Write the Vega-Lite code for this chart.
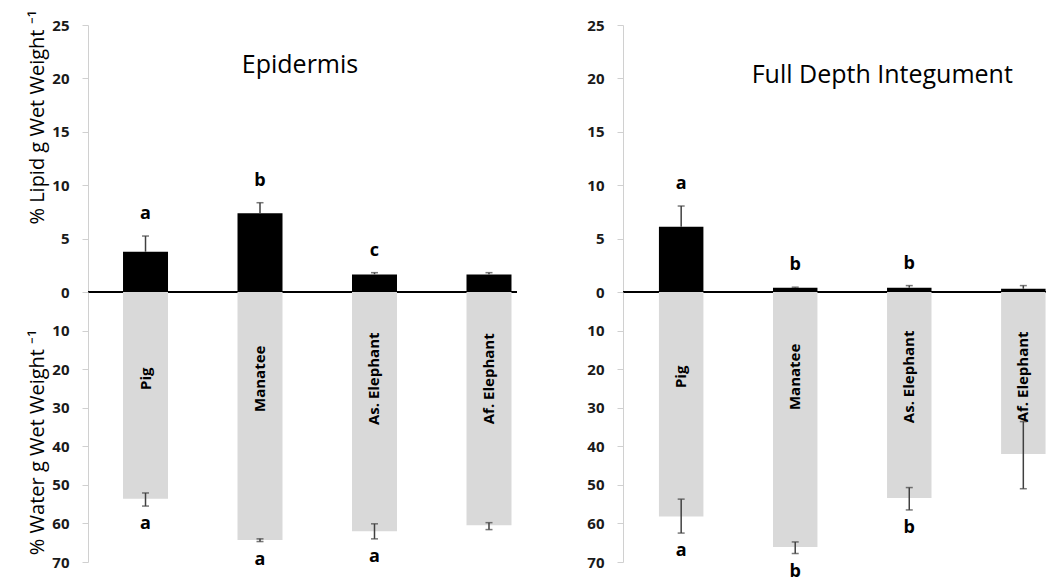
{
  "$schema": "https://vega.github.io/schema/vega-lite/v6.json",
  "background": "white",
  "padding": {"left": 27, "top": 9, "right": 0, "bottom": 0},
  "spacing": 68,
  "config": {
    "view": {"stroke": null},
    "font": "Open Sans",
    "axis": {
      "grid": false,
      "domainColor": "#d0d0d0",
      "tickColor": "#d0d0d0",
      "tickSize": 6,
      "labelFont": "Open Sans",
      "labelFontWeight": "bold",
      "labelFontSize": 15,
      "labelColor": "#1a1a1a",
      "labelPadding": 13,
      "titleFont": "Open Sans",
      "titleFontSize": 20,
      "titleFontWeight": "normal",
      "titleColor": "#000000"
    }
  },
  "datasets": {
    "epi": [
      {"animal": "Pig", "lipid": 3.77, "lipid_hi": 5.24, "lipid_sig": "a", "water": 53.6, "water_lo": 52.1, "water_hi": 55.5, "water_sig": "a"},
      {"animal": "Manatee", "lipid": 7.37, "lipid_hi": 8.36, "lipid_sig": "b", "water": 64.3, "water_lo": 64.0, "water_hi": 64.7, "water_sig": "a"},
      {"animal": "As. Elephant", "lipid": 1.65, "lipid_hi": 1.81, "lipid_sig": "c", "water": 62.0, "water_lo": 60.1, "water_hi": 64.0, "water_sig": "a"},
      {"animal": "Af. Elephant", "lipid": 1.65, "lipid_hi": 1.81, "lipid_sig": "", "water": 60.5, "water_lo": 59.8, "water_hi": 61.6, "water_sig": ""}
    ],
    "fdi": [
      {"animal": "Pig", "lipid": 6.11, "lipid_hi": 8.05, "lipid_sig": "a", "water": 58.2, "water_lo": 53.7, "water_hi": 62.5, "water_sig": "a"},
      {"animal": "Manatee", "lipid": 0.4, "lipid_hi": 0.45, "lipid_sig": "b", "water": 66.1, "water_lo": 64.8, "water_hi": 67.8, "water_sig": "b"},
      {"animal": "As. Elephant", "lipid": 0.4, "lipid_hi": 0.6, "lipid_sig": "b", "water": 53.4, "water_lo": 50.7, "water_hi": 56.5, "water_sig": "b"},
      {"animal": "Af. Elephant", "lipid": 0.3, "lipid_hi": 0.6, "lipid_sig": "", "water": 42.0, "water_lo": 33.6, "water_hi": 51.0, "water_sig": ""}
    ],
    "titles": [
      {"panel": "epi", "name": "Epidermis"},
      {"panel": "fdi", "name": "Full Depth Integument"}
    ]
  },
  "hconcat": [
    {
      "vconcat": [
        {
          "width": 429,
          "height": 267,
          "data": {"name": "epi"},
          "encoding": {
            "x": {"field": "animal", "type": "nominal", "sort": null, "axis": null,
                  "scale": {"paddingInner": 0.607, "paddingOuter": 0.177, "align": 0.864, "round": false}}
          },
          "layer": [
            {"mark": {"type": "bar", "color": "#000000"},
             "encoding": {"y": {"field": "lipid", "type": "quantitative",
                                "scale": {"domain": [0, 25], "nice": false},
                                "axis": {"values": [0, 5, 10, 15, 20, 25], "title": "% Lipid g Wet Weight ⁻¹", "titleY": 92}}}},
            {"mark": {"type": "rule", "color": "#404040", "strokeWidth": 1.5},
             "encoding": {"y": {"field": "lipid", "type": "quantitative"}, "y2": {"field": "lipid_hi"}}},
            {"mark": {"type": "tick", "color": "#404040", "size": 7, "thickness": 1.5},
             "encoding": {"y": {"field": "lipid_hi", "type": "quantitative"}}},
            {"mark": {"type": "text", "font": "Open Sans", "fontWeight": "bold", "fontSize": 18, "baseline": "middle", "dy": -22, "color": "#000000"},
             "encoding": {"y": {"field": "lipid_hi", "type": "quantitative"}, "text": {"field": "lipid_sig"}}},
            {"mark": {"type": "rule", "color": "#000000", "strokeWidth": 2},
             "encoding": {"y": {"datum": 0, "type": "quantitative"}, "x": null}},
            {"data": {"name": "titles"},
             "transform": [{"filter": "datum.panel == 'epi'"}],
             "mark": {"type": "text", "font": "Open Sans", "fontSize": 25, "baseline": "middle", "align": "center", "dx": 40, "color": "#000000"},
             "encoding": {"x": {"datum": "Manatee", "type": "nominal"}, "y": {"datum": 21.25, "type": "quantitative"}, "text": {"field": "name"}}}
          ]
        },
        {
          "width": 429,
          "height": 270,
          "data": {"name": "epi"},
          "encoding": {
            "x": {"field": "animal", "type": "nominal", "sort": null, "axis": null,
                  "scale": {"paddingInner": 0.607, "paddingOuter": 0.177, "align": 0.864, "round": false}}
          },
          "layer": [
            {"mark": {"type": "bar", "color": "#d9d9d9"},
             "encoding": {"y": {"field": "water", "type": "quantitative",
                                "scale": {"domain": [0, 70], "nice": false, "reverse": true},
                                "axis": {"values": [10, 20, 30, 40, 50, 60, 70], "title": "% Water g Wet Weight ⁻¹", "titleY": 150}}}},
            {"mark": {"type": "rule", "color": "#404040", "strokeWidth": 1.5},
             "encoding": {"y": {"field": "water_lo", "type": "quantitative"}, "y2": {"field": "water_hi"}}},
            {"mark": {"type": "tick", "color": "#404040", "size": 7, "thickness": 1.5},
             "encoding": {"y": {"field": "water_lo", "type": "quantitative"}}},
            {"mark": {"type": "tick", "color": "#404040", "size": 7, "thickness": 1.5},
             "encoding": {"y": {"field": "water_hi", "type": "quantitative"}}},
            {"mark": {"type": "text", "font": "Open Sans", "fontWeight": "bold", "fontSize": 18, "baseline": "middle", "dy": 18, "color": "#000000"},
             "encoding": {"y": {"field": "water_hi", "type": "quantitative"}, "text": {"field": "water_sig"}}},
            {"mark": {"type": "text", "font": "Open Sans", "fontWeight": "bold", "fontSize": 15, "baseline": "middle", "align": "center", "angle": 270, "color": "#000000"},
             "encoding": {"y": {"datum": 22.5, "type": "quantitative"}, "text": {"field": "animal"}}}
          ]
        }
      ],
      "spacing": 0,
      "bounds": "flush"
    },
    {
      "vconcat": [
        {
          "width": 427,
          "height": 267,
          "data": {"name": "fdi"},
          "encoding": {
            "x": {"field": "animal", "type": "nominal", "sort": null, "axis": null,
                  "scale": {"paddingInner": 0.61, "paddingOuter": 0.177, "align": 0.89, "round": false}}
          },
          "layer": [
            {"mark": {"type": "bar", "color": "#000000"},
             "encoding": {"y": {"field": "lipid", "type": "quantitative",
                                "scale": {"domain": [0, 25], "nice": false},
                                "axis": {"values": [0, 5, 10, 15, 20, 25], "title": null}}}},
            {"mark": {"type": "rule", "color": "#404040", "strokeWidth": 1.5},
             "encoding": {"y": {"field": "lipid", "type": "quantitative"}, "y2": {"field": "lipid_hi"}}},
            {"mark": {"type": "tick", "color": "#404040", "size": 7, "thickness": 1.5},
             "encoding": {"y": {"field": "lipid_hi", "type": "quantitative"}}},
            {"mark": {"type": "text", "font": "Open Sans", "fontWeight": "bold", "fontSize": 18, "baseline": "middle", "dy": -22, "color": "#000000"},
             "encoding": {"y": {"field": "lipid_hi", "type": "quantitative"}, "text": {"field": "lipid_sig"}}},
            {"mark": {"type": "rule", "color": "#000000", "strokeWidth": 2},
             "encoding": {"y": {"datum": 0, "type": "quantitative"}, "x": null}},
            {"data": {"name": "titles"},
             "transform": [{"filter": "datum.panel == 'fdi'"}],
             "mark": {"type": "text", "font": "Open Sans", "fontSize": 25, "baseline": "middle", "align": "center", "dx": -27, "color": "#000000"},
             "encoding": {"x": {"datum": "As. Elephant", "type": "nominal"}, "y": {"datum": 20.3, "type": "quantitative"}, "text": {"field": "name"}}}
          ]
        },
        {
          "width": 427,
          "height": 270,
          "data": {"name": "fdi"},
          "encoding": {
            "x": {"field": "animal", "type": "nominal", "sort": null, "axis": null,
                  "scale": {"paddingInner": 0.61, "paddingOuter": 0.177, "align": 0.89, "round": false}}
          },
          "layer": [
            {"mark": {"type": "bar", "color": "#d9d9d9"},
             "encoding": {"y": {"field": "water", "type": "quantitative",
                                "scale": {"domain": [0, 70], "nice": false, "reverse": true},
                                "axis": {"values": [10, 20, 30, 40, 50, 60, 70], "title": null}}}},
            {"mark": {"type": "rule", "color": "#404040", "strokeWidth": 1.5},
             "encoding": {"y": {"field": "water_lo", "type": "quantitative"}, "y2": {"field": "water_hi"}}},
            {"mark": {"type": "tick", "color": "#404040", "size": 7, "thickness": 1.5},
             "encoding": {"y": {"field": "water_lo", "type": "quantitative"}}},
            {"mark": {"type": "tick", "color": "#404040", "size": 7, "thickness": 1.5},
             "encoding": {"y": {"field": "water_hi", "type": "quantitative"}}},
            {"mark": {"type": "text", "font": "Open Sans", "fontWeight": "bold", "fontSize": 18, "baseline": "middle", "dy": 18, "color": "#000000"},
             "encoding": {"y": {"field": "water_hi", "type": "quantitative"}, "text": {"field": "water_sig"}}},
            {"mark": {"type": "text", "font": "Open Sans", "fontWeight": "bold", "fontSize": 15, "baseline": "middle", "align": "center", "angle": 270, "color": "#000000"},
             "encoding": {"y": {"datum": 22, "type": "quantitative"}, "text": {"field": "animal"}}}
          ]
        }
      ],
      "spacing": 0,
      "bounds": "flush"
    }
  ]
}
